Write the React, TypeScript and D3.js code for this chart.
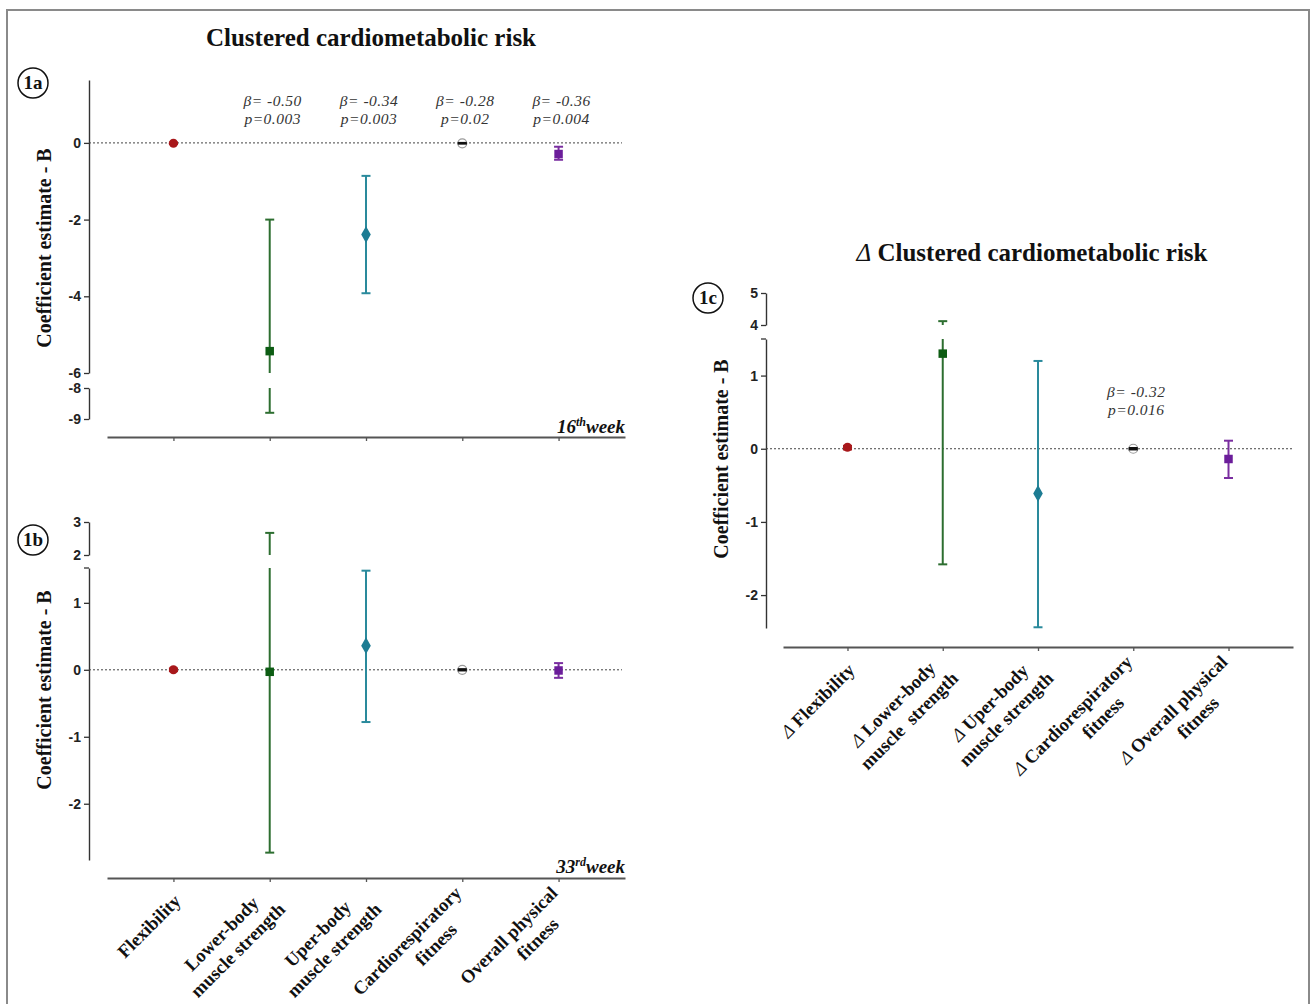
import React, { useEffect, useRef } from 'react';
import * as d3 from 'd3';

// ---------- data ----------
const categories = [
  'Flexibility',
  'Lower-body muscle strength',
  'Uper-body muscle strength',
  'Cardiorespiratory fitness',
  'Overall physical fitness',
];

const fitnessLabelLines = [
  ['Flexibility'],
  ['Lower-body', 'muscle strength'],
  ['Uper-body', 'muscle strength'],
  ['Cardiorespiratory', 'fitness'],
  ['Overall physical', 'fitness'],
];

const deltaLabelLines = [
  ['Δ Flexibility'],
  ['Δ Lower-body', 'muscle  strength'],
  ['Δ Uper-body', 'muscle strength'],
  ['Δ Cardiorespiratory', 'fitness'],
  ['Δ Overall physical', 'fitness'],
];

// 16th week coefficient estimates with 95% CI
const week16Estimate = [-0.01, -5.43, -2.39, -0.01, -0.29];
const week16Low = [-0.03, -8.8, -3.92, -0.02, -0.44];
const week16High = [0.01, -2.0, -0.86, 0.0, -0.1];

// 33rd week
const week33Estimate = [0.0, -0.03, 0.36, 0.0, -0.01];
const week33Low = [-0.02, -2.73, -0.78, -0.01, -0.12];
const week33High = [0.02, 2.67, 1.48, 0.01, 0.1];

// change scores
const deltaEstimate = [0.02, 1.3, -0.61, 0.0, -0.14];
const deltaLow = [-0.01, -1.58, -2.44, -0.01, -0.4];
const deltaHigh = [0.04, 4.12, 1.2, 0.01, 0.11];

const week16Beta = ['', 'β= -0.50', 'β= -0.34', 'β= -0.28', 'β= -0.36'];
const week16P = ['', 'p=0.003', 'p=0.003', 'p=0.02', 'p=0.004'];
const week33Beta = ['', '', '', '', ''];
const week33P = ['', '', '', '', ''];
const deltaBeta = ['', '', '', 'β= -0.32', ''];
const deltaP = ['', '', '', 'p=0.016', ''];

const week16Domain = [-6, 1.64];
const week16BreakDomain = [-9, -8];
const week16Ticks = [0, -2, -4, -6];
const week16BreakTicks = [-8, -9];

const week33Domain = [-2.84, 1.52];
const week33BreakDomain = [2, 3];
const week33Ticks = [1, 0, -1, -2];
const week33BreakTicks = [2, 3];

const deltaDomain = [-2.45, 1.5];
const deltaBreakDomain = [4, 5];
const deltaTicks = [1, 0, -1, -2];
const deltaBreakTicks = [4, 5];

// ---------- styling ----------
const SERIF = '"Liberation Serif", "Times New Roman", serif';
const SANS = '"Liberation Sans", Arial, sans-serif';

const markerShape = ['circle', 'square', 'diamond', 'hollow', 'square'];
const markerColor = ['#a8181b', '#0d5c13', '#1d7c93', '#ffffff', '#6b1d9a'];
const barColor = ['#a8181b', '#2d6e30', '#2a8a9c', '#111111', '#7a2ea0'];

const panels = [
  {
    estimate: week16Estimate, low: week16Low, high: week16High,
    beta: week16Beta, pval: week16P,
    domain: week16Domain, breakDomain: week16BreakDomain,
    ticks: week16Ticks, breakTicks: week16BreakTicks,
    axisX: 89, mainRange: [373, 80], breakRange: [419, 388], capTop: false,
    xAxisY: 437, xRange: [107, 625], padding: 0.69, zeroEnd: 622,
    badge: { x: 33, y: 83, text: '1a' },
    yTitle: { x: 51, y: 248 },
    week: { x: 625, y: 433, num: '16', sup: 'th' },
    annotY: [106, 124],
    labels: null, labelShift: null,
  },
  {
    estimate: week33Estimate, low: week33Low, high: week33High,
    beta: week33Beta, pval: week33P,
    domain: week33Domain, breakDomain: week33BreakDomain,
    ticks: week33Ticks, breakTicks: week33BreakTicks,
    axisX: 89, mainRange: [860, 568], breakRange: [555, 522], capTop: true,
    xAxisY: 878, xRange: [107, 625], padding: 0.69, zeroEnd: 622,
    badge: { x: 33, y: 540, text: '1b' },
    yTitle: { x: 51, y: 690 },
    week: { x: 625, y: 873, num: '33', sup: 'rd' },
    annotY: [0, 0],
    labels: fitnessLabelLines, labelShift: [[0], [0, 0], [0, 0], [0, 18], [0, 18]],
  },
  {
    estimate: deltaEstimate, low: deltaLow, high: deltaHigh,
    beta: deltaBeta, pval: deltaP,
    domain: deltaDomain, breakDomain: deltaBreakDomain,
    ticks: deltaTicks, breakTicks: deltaBreakTicks,
    axisX: 766, mainRange: [628, 339], breakRange: [325, 293], capTop: true,
    xAxisY: 647, xRange: [783, 1293], padding: 0.677, zeroEnd: 1292,
    badge: { x: 708, y: 298, text: '1c' },
    yTitle: { x: 728, y: 459 },
    week: null,
    annotY: [397, 415],
    labels: deltaLabelLines, labelShift: [[0], [0, 0], [0, 0], [0, 20], [0, 12]],
  },
];

function styleAxis(sel: any) {
  sel.select('.domain').attr('stroke', '#333').attr('stroke-width', 1.4);
  sel.selectAll('.tick line').attr('stroke', '#333').attr('stroke-width', 1.3);
  sel.selectAll('.tick text')
    .attr('fill', '#222')
    .style('font-family', SANS)
    .style('font-weight', 'bold')
    .style('font-size', '14px');
}

function drawPanel(svg: any, p: any) {
  const g = svg.append('g');
  const yMain = d3.scaleLinear().domain(p.domain).range(p.mainRange);
  const yBreak = d3.scaleLinear().domain(p.breakDomain).range(p.breakRange);
  const x = d3.scalePoint().domain(categories).range(p.xRange).padding(p.padding);
  const fmt = (d: any) => String(d);

  // y axis (main segment)
  const aMain = g.append('g').attr('transform', `translate(${p.axisX},0)`)
    .call(d3.axisLeft(yMain).tickValues(p.ticks).tickSize(5).tickSizeOuter(0).tickPadding(3).tickFormat(fmt));
  styleAxis(aMain);
  if (p.capTop) {
    aMain.append('line')
      .attr('x1', -5).attr('x2', 0)
      .attr('y1', p.mainRange[1]).attr('y2', p.mainRange[1])
      .attr('stroke', '#333').attr('stroke-width', 1.3);
  }

  // y axis (broken segment)
  const aBreak = g.append('g').attr('transform', `translate(${p.axisX},0)`)
    .call(d3.axisLeft(yBreak).tickValues(p.breakTicks).tickSize(5).tickSizeOuter(0).tickPadding(3).tickFormat(fmt));
  styleAxis(aBreak);

  // x axis
  const ax = g.append('g').attr('transform', `translate(0,${p.xAxisY})`)
    .call(d3.axisBottom(x).tickSize(4).tickSizeOuter(0).tickFormat(() => ''));
  ax.select('.domain').attr('stroke', '#555').attr('stroke-width', 2);
  ax.selectAll('.tick line').attr('stroke', '#555').attr('stroke-width', 1.3);

  // zero reference line
  g.append('line')
    .attr('x1', p.axisX).attr('x2', p.zeroEnd)
    .attr('y1', yMain(0)).attr('y2', yMain(0))
    .attr('stroke', '#444').attr('stroke-width', 1)
    .attr('stroke-dasharray', '2,2');

  const inDomain = (v: number, dom: number[]) =>
    v >= Math.min(dom[0], dom[1]) - 1e-9 && v <= Math.max(dom[0], dom[1]) + 1e-9;
  const yOf = (v: number) => (inDomain(v, p.breakDomain) ? yBreak(v) : yMain(v));

  const bars = g.append('g');
  const hollow = g.append('g');
  const filled = g.append('g');

  categories.forEach((cat, i) => {
    const cx = x(cat) as number;
    const lo = p.low[i];
    const hi = p.high[i];
    const col = barColor[i];
    const target = markerShape[i] === 'hollow' ? filled : bars;

    // whisker segments, split across the axis break
    [[yMain, p.domain], [yBreak, p.breakDomain]].forEach(([sc, dom]: any) => {
      const d0 = Math.min(dom[0], dom[1]);
      const d1 = Math.max(dom[0], dom[1]);
      const a = Math.max(lo, d0);
      const b = Math.min(hi, d1);
      if (a < b) {
        target.append('line')
          .attr('x1', cx).attr('x2', cx)
          .attr('y1', sc(a)).attr('y2', sc(b))
          .attr('stroke', col).attr('stroke-width', 2);
      }
    });
    [lo, hi].forEach((v) => {
      target.append('line')
        .attr('x1', cx - 4.5).attr('x2', cx + 4.5)
        .attr('y1', yOf(v)).attr('y2', yOf(v))
        .attr('stroke', col).attr('stroke-width', 2);
    });

    const cy = yOf(p.estimate[i]);
    const shape = markerShape[i];
    if (shape === 'hollow') {
      hollow.append('circle')
        .attr('cx', cx).attr('cy', cy).attr('r', 4.5)
        .attr('fill', '#fff').attr('stroke', '#9a9a9a').attr('stroke-width', 1.2);
    } else {
      const type = shape === 'circle' ? d3.symbolCircle : shape === 'square' ? d3.symbolSquare : d3.symbolDiamond;
      const size = shape === 'circle' ? 64 : shape === 'square' ? 72 : 80;
      filled.append('path')
        .attr('d', d3.symbol().type(type).size(size)())
        .attr('transform', `translate(${cx},${cy})`)
        .attr('fill', markerColor[i]);
    }

    // beta / p annotations
    if (p.beta[i]) {
      [p.beta[i], p.pval[i]].forEach((t: string, k: number) => {
        g.append('text')
          .attr('x', cx + 3).attr('y', p.annotY[k])
          .attr('text-anchor', 'middle')
          .attr('fill', '#333')
          .style('font-family', SERIF)
          .style('font-style', 'italic')
          .style('font-size', '15.5px')
          .style('letter-spacing', '0.5px')
          .text(t);
      });
    }
  });

  // rotated category labels
  if (p.labels) {
    const fs = 18.5;
    const lh = 23;
    categories.forEach((cat, i) => {
      const lines = p.labels[i];
      const grp = g.append('g')
        .attr('transform', `translate(${(x(cat) as number) + 4},${p.xAxisY + 20}) rotate(-45)`);
      const texts = lines.map((ln: string) => {
        const t = grp.append('text')
          .attr('text-anchor', 'middle')
          .attr('fill', '#111')
          .style('font-family', SERIF)
          .style('font-weight', 'bold')
          .style('font-size', `${fs}px`)
          .style('white-space', 'pre');
        if (ln.startsWith('Δ')) {
          t.append('tspan').style('font-weight', 'normal').style('font-style', 'italic').text('Δ');
          t.append('tspan').text(ln.slice(1));
        } else {
          t.text(ln);
        }
        return t;
      });
      const widths = texts.map((t: any) => (t.node() as SVGTextElement).getComputedTextLength());
      const W = Math.max(...widths);
      const n = lines.length;
      texts.forEach((t: any, k: number) => {
        t.attr('x', -W / 2 + p.labelShift[i][k])
          .attr('y', (k - (n - 1) / 2) * lh + 0.33 * fs);
      });
    });
  }

  // week label
  if (p.week) {
    const t = g.append('text')
      .attr('x', p.week.x).attr('y', p.week.y)
      .attr('text-anchor', 'end')
      .attr('fill', '#111')
      .style('font-family', SERIF)
      .style('font-weight', 'bold')
      .style('font-style', 'italic')
      .style('font-size', '19px');
    t.append('tspan').text(p.week.num);
    t.append('tspan').attr('dy', -7).style('font-size', '12px').text(p.week.sup);
    t.append('tspan').attr('dy', 7).text('week');
  }

  // panel badge
  g.append('circle')
    .attr('cx', p.badge.x).attr('cy', p.badge.y).attr('r', 15)
    .attr('fill', 'none').attr('stroke', '#111').attr('stroke-width', 1.5);
  g.append('text')
    .attr('x', p.badge.x).attr('y', p.badge.y + 6)
    .attr('text-anchor', 'middle')
    .attr('fill', '#111')
    .style('font-family', SERIF)
    .style('font-weight', 'bold')
    .style('font-size', '19px')
    .text(p.badge.text);

  // y axis title
  g.append('text')
    .attr('transform', `translate(${p.yTitle.x},${p.yTitle.y}) rotate(-90)`)
    .attr('text-anchor', 'middle')
    .attr('fill', '#111')
    .style('font-family', SERIF)
    .style('font-weight', 'bold')
    .style('font-size', '20px')
    .text('Coefficient estimate - B');
}

export default function App() {
  const ref = useRef<SVGSVGElement | null>(null);

  useEffect(() => {
    const svg = d3.select(ref.current);
    svg.selectAll('*').remove();

    svg.append('rect').attr('width', 1311).attr('height', 1004).attr('fill', '#fff');
    svg.append('rect')
      .attr('x', 7).attr('y', 10).attr('width', 1302).attr('height', 1010)
      .attr('fill', 'none').attr('stroke', '#8a8a8a').attr('stroke-width', 2);

    svg.append('text')
      .attr('x', 371).attr('y', 46)
      .attr('text-anchor', 'middle')
      .attr('fill', '#111')
      .style('font-family', SERIF)
      .style('font-weight', 'bold')
      .style('font-size', '25px')
      .text('Clustered cardiometabolic risk');

    const t2 = svg.append('text')
      .attr('x', 1032).attr('y', 261)
      .attr('text-anchor', 'middle')
      .attr('fill', '#111')
      .style('font-family', SERIF)
      .style('font-size', '25px');
    t2.append('tspan').style('font-style', 'italic').text('Δ');
    t2.append('tspan').style('font-weight', 'bold').text(' Clustered cardiometabolic risk');

    panels.forEach((p) => drawPanel(svg, p));
  }, []);

  return (
    <svg
      ref={ref}
      width={1311}
      height={1004}
      style={{ position: 'absolute', left: 0, top: 0, display: 'block' }}
    />
  );
}
